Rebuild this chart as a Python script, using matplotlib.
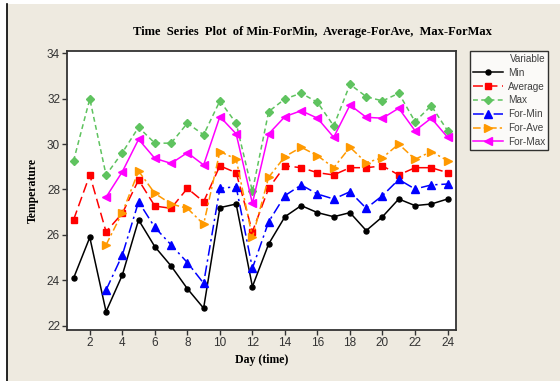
import matplotlib
matplotlib.use("Agg")
import matplotlib.pyplot as plt
import numpy as np
from matplotlib.patches import Rectangle
from matplotlib.lines import Line2D

days = list(range(1, 25))
days_for = list(range(3, 25))

min_vals = [24.09, 25.89, 22.62, 24.23, 26.66, 25.48, 24.63, 23.63, 22.77, 27.2, 27.36, 23.72,
            25.6, 26.8, 27.29, 26.98, 26.8, 26.98, 26.19, 26.8, 27.58, 27.29, 27.36, 27.58]
avg_vals = [26.66, 28.64, 26.14, 26.95, 28.42, 27.27, 27.17, 28.05, 27.46, 29.04, 28.74, 26.14,
            28.05, 29.04, 28.96, 28.74, 28.64, 28.96, 28.96, 29.04, 28.64, 28.96, 28.96, 28.74]
max_vals = [29.26, 31.99, 28.64, 29.62, 30.74, 30.04, 30.04, 30.92, 30.41, 31.9, 30.92, 27.92,
            31.43, 31.99, 32.24, 31.84, 30.8, 32.63, 32.09, 31.9, 32.24, 30.99, 31.69, 30.59]
for_min = [23.57, 25.11, 27.46, 26.33, 25.56, 24.78, 23.87, 28.05, 28.12, 24.53,
           26.58, 27.73, 28.2, 27.8, 27.58, 27.9, 27.17, 27.73, 28.44, 28.02, 28.2, 28.24]
for_ave = [25.56, 26.98, 28.81, 27.83, 27.36, 27.17, 26.47, 29.67, 29.34, 25.89,
           28.54, 29.45, 29.86, 29.49, 28.96, 29.86, 29.18, 29.4, 30.0, 29.33, 29.67, 29.27]
for_max = [27.66, 28.78, 30.21, 29.37, 29.15, 29.62, 29.08, 31.21, 30.45, 27.39,
           30.45, 31.21, 31.47, 31.14, 30.3, 31.72, 31.18, 31.14, 31.58, 30.59, 31.14, 30.3]

x_ticks = list(range(2, 25, 2))
y_ticks = list(range(22, 35, 2))

BG = "#EEEAE0"
W, H = 560, 381
fig = plt.figure(figsize=(W / 100, H / 100), dpi=100)
fig.patch.set_facecolor("white")
fig.patches.append(Rectangle((7 / W, 0), 1 - 7 / W, 1 - 4 / H, transform=fig.transFigure,
                             facecolor=BG, edgecolor="none", zorder=-10))
fig.lines.append(Line2D([6.5 / W, 6.5 / W], [0, 1 - 4 / H], transform=fig.transFigure,
                        color="black", lw=1.2))

ax = fig.add_axes([66.7 / W, 1 - 330 / H, (456 - 66.7) / W, (330 - 51) / H])
ax.set_facecolor("white")

lw = 1.1
ax.plot(days, min_vals, color="black", lw=lw, ls="-", marker="o", ms=3.6, label="Min")
ax.plot(days, avg_vals, color="#FF0000", lw=lw, ls=(0, (6.5, 3)), marker="s", ms=4.6, label="Average")
ax.plot(days, max_vals, color="#5FC35F", lw=lw, ls=(0, (3.2, 2.2)), marker="D", ms=4.2, label="Max")
ax.plot(days_for, for_min, color="#0000FF", lw=lw, ls=(0, (7, 2.5, 1.5, 2.5)), marker="^", ms=5.6, label="For-Min")
ax.plot(days_for, for_ave, color="#FF9900", lw=lw, ls=(0, (5, 2, 1.5, 2)), marker=">", ms=5.6, label="For-Ave")
ax.plot(days_for, for_max, color="#FF00FF", lw=lw, ls="-", marker="<", ms=5.6, label="For-Max")

ax.set_xlim(0.58, 24.52)
ax.set_ylim(21.81, 34.1)
ax.set_xticks(x_ticks)
ax.set_yticks(y_ticks)
ax.tick_params(direction="out", length=3.3, width=1, colors="#333333", labelsize=8.5, pad=1.5,
               top=False, right=False)
for lab in ax.get_xticklabels() + ax.get_yticklabels():
    lab.set_family("Liberation Sans")
for sp in ax.spines.values():
    sp.set_color("#333333")
    sp.set_linewidth(1.3)

ax.set_xlabel("Day (time)", family="Liberation Serif", fontweight="bold", fontsize=8.5, labelpad=4)
ax.set_ylabel("Temperature", family="Liberation Serif", fontweight="bold", fontsize=8.5, labelpad=6)

fig.text(312 / W, 1 - 32 / H, "Time  Series  Plot  of Min-ForMin,  Average-ForAve,  Max-ForMax",
         ha="center", va="center", family="Liberation Serif", fontweight="bold", fontsize=9)

leg = fig.legend(*ax.get_legend_handles_labels(), loc="upper left",
                 bbox_to_anchor=(470 / W, 1 - 51 / H), bbox_transform=fig.transFigure,
                 borderaxespad=0, frameon=True, fancybox=False, numpoints=1,
                 prop={"family": "Liberation Sans", "size": 7.2}, title="Variable",
                 title_fontproperties={"family": "Liberation Sans", "size": 7.2},
                 alignment="right", handlelength=3.0, handletextpad=0.5, borderpad=0.3,
                 labelspacing=0.38)
leg.get_frame().set_edgecolor("black")
leg.get_frame().set_linewidth(1.0)
for t in leg.get_texts():
    t.set_color("#404040")
leg.get_title().set_color("#404040")

fig.savefig("out.png", dpi=100, facecolor=fig.get_facecolor())
